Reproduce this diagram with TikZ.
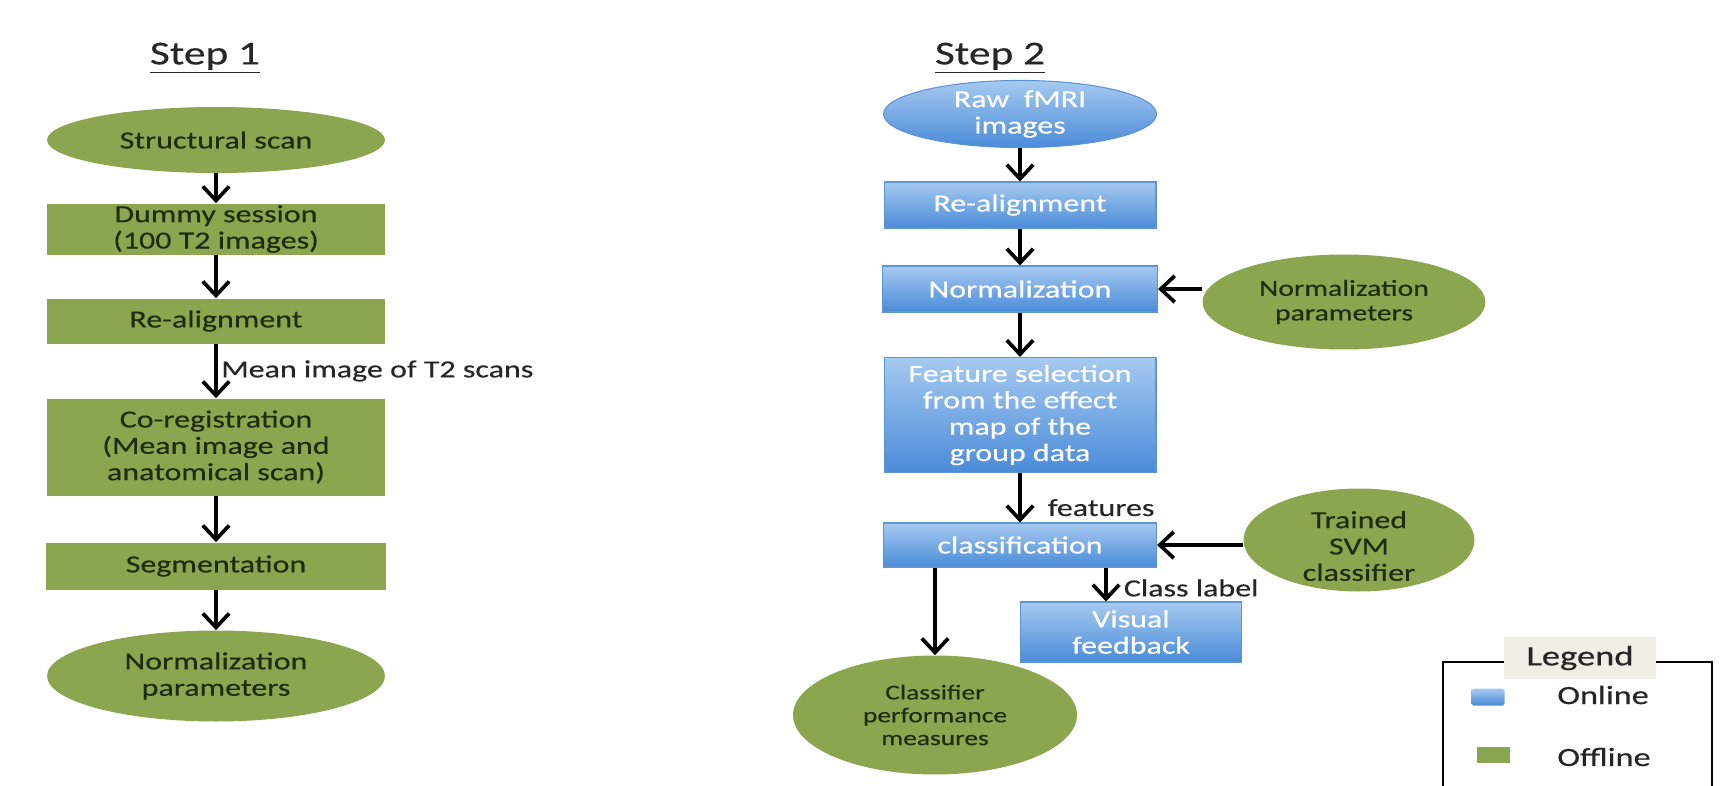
\documentclass[tikz,border=0pt]{standalone}
\usepackage{fontspec}
\setmainfont{Carlito}[FakeStretch=1.3, FakeBold=0.4]
\usetikzlibrary{arrows.meta, shapes.geometric}
\definecolor{offgreen}{HTML}{8CA650}
\definecolor{offtext}{HTML}{1F2C10}
\definecolor{ontop}{HTML}{A6CAF0}
\definecolor{onbot}{HTML}{4A8BD8}
\definecolor{onedge}{HTML}{5E93D6}
\definecolor{legbg}{HTML}{EEEEE4}
\def\nfont{\fontsize{14}{15}\selectfont}
\tikzset{
  offbox/.style={rectangle, fill=offgreen, text=offtext, align=center, inner sep=0pt, font=\nfont},
  offell/.style={ellipse, fill=offgreen, text=offtext, align=center, inner sep=0pt, font=\nfont},
  onbox/.style={rectangle, top color=ontop, bottom color=onbot, draw=onedge, line width=0.6pt, text=white, align=center, inner sep=0pt, font=\nfont},
  onell/.style={ellipse, top color=ontop, bottom color=onbot, draw=onedge, line width=0.6pt, text=white, align=center, inner sep=0pt, font=\nfont},
  flow/.style={line width=2.1pt, -{Straight Barb[length=8pt,width=15pt]}},
  flowlabel/.style={font=\nfont, text=black!85, inner sep=2pt},
  steptitle/.style={font=\fontsize{19}{21}\selectfont, text=black!85},
}

\begin{document}
\begin{tikzpicture}[x=0.02cm, y=-0.02cm]
\clip (0,0) rectangle (1734,785);

% Step 1
\node[steptitle] (s1title) at (205,58) {\underline{Step 1}};
\node[offell, minimum width=6.76cm, minimum height=1.32cm] (s1scan) at (216,140) {Structural scan};
\node[offbox, minimum width=6.76cm, minimum height=1.02cm] (s1dummy) at (216,229) {Dummy session\\(100 T2 images)};
\node[offbox, minimum width=6.76cm, minimum height=0.9cm] (s1realign) at (216,321) {Re-alignment};
\node[offbox, minimum width=6.76cm, minimum height=1.94cm] (s1coreg) at (216,447) {Co-registration\\(Mean image and\\anatomical scan)};
\node[offbox, minimum width=6.82cm, minimum height=0.94cm] (s1seg) at (216,566) {Segmentation};
\node[offell, minimum width=6.76cm, minimum height=1.82cm] (s1normp) at (216,676) {Normalization\\parameters};

\draw[flow] (s1scan) -- (s1dummy);
\draw[flow] (s1dummy) -- (s1realign);
\draw[flow] (s1realign) -- (s1coreg) node[flowlabel, midway, right] {Mean image of T2 scans};
\draw[flow] (s1coreg) -- (s1seg);
\draw[flow] (s1seg) -- (s1normp);

% Step 2
\node[steptitle] (s2title) at (990,58) {\underline{Step 2}};
\node[onell, minimum width=5.46cm, minimum height=1.16cm] (s2raw) at (1020,114) {Raw\ \ fMRI\\images};
\node[onbox, minimum width=5.44cm, minimum height=0.92cm] (s2realign) at (1020,205) {Re-alignment};
\node[onbox, minimum width=5.5cm, minimum height=0.92cm] (s2norm) at (1020,289) {Normalization};
\node[offell, minimum width=5.66cm, minimum height=1.9cm, font=\fontsize{13}{14}\selectfont] (s2normp) at (1344,302) {Normalization\\parameters};
\node[onbox, minimum width=5.44cm, minimum height=2.3cm] (s2feat) at (1020,415) {Feature selection\\from the effect\\map of the\\group data};
\node[onbox, minimum width=5.46cm, minimum height=0.88cm] (s2class) at (1020,545) {classification};
\node[offell, minimum width=4.62cm, minimum height=2.06cm] (s2svm) at (1359,540) {};
\node[font=\nfont, text=offtext, align=center] (s2svmtxt) at (1359,546) {Trained\\SVM\\classifier};
\node[onbox, minimum width=4.42cm, minimum height=1.2cm] (s2fb) at (1131,632) {Visual\\feedback};
\node[offell, minimum width=5.68cm, minimum height=2.38cm, font=\fontsize{12}{13}\selectfont] (s2perf) at (935,715) {Classifier\\performance\\measures};

\draw[flow] (s2raw) -- (s2realign);
\draw[flow] (s2realign) -- (s2norm);
\draw[flow] (s2normp.west |- s2norm.east) -- (s2norm.east);
\draw[flow] (s2norm) -- (s2feat);
\draw[flow] (s2feat) -- (s2class) node[flowlabel, pos=0.7, right=0.45cm] {features};
\draw[flow] (s2svm.west |- s2class.east) -- (s2class.east);
\draw[flow] ([xshift=-0.5cm]s2fb.north |- s2class.south) -- ([xshift=-0.5cm]s2fb.north) node[flowlabel, pos=0.6, right=0.25cm] {Class label};
\draw[flow] (s2perf.north |- s2class.south) -- (s2perf.north);

% Legend
\node[fill=legbg, minimum width=3.04cm, minimum height=0.84cm, font=\fontsize{16}{17}\selectfont, text=black!85] (legtitle) at (1580,658) {Legend};
\coordinate (legbl) at (1443,800);
\coordinate (legbr) at (1712,800);
\draw[line width=1pt] (legtitle.west |- 0,662) -| (legbl);
\draw[line width=1pt] (legtitle.east |- 0,662) -| (legbr);
\node[rectangle, top color=ontop, bottom color=onbot, rounded corners=1pt, minimum width=0.66cm, minimum height=0.34cm, inner sep=0pt] (legon) at (1488,697) {};
\node[font=\fontsize{15}{16}\selectfont, text=black!85, anchor=west, inner sep=0pt] (legontxt) at (1557,695) {Online};
\node[rectangle, fill=offgreen, minimum width=0.66cm, minimum height=0.32cm, inner sep=0pt] (legoff) at (1493,755) {};
\node[font=\fontsize{15}{16}\selectfont, text=black!85, anchor=west, inner sep=0pt] (legofftxt) at (1557,757) {Offline};
\end{tikzpicture}
\end{document}
